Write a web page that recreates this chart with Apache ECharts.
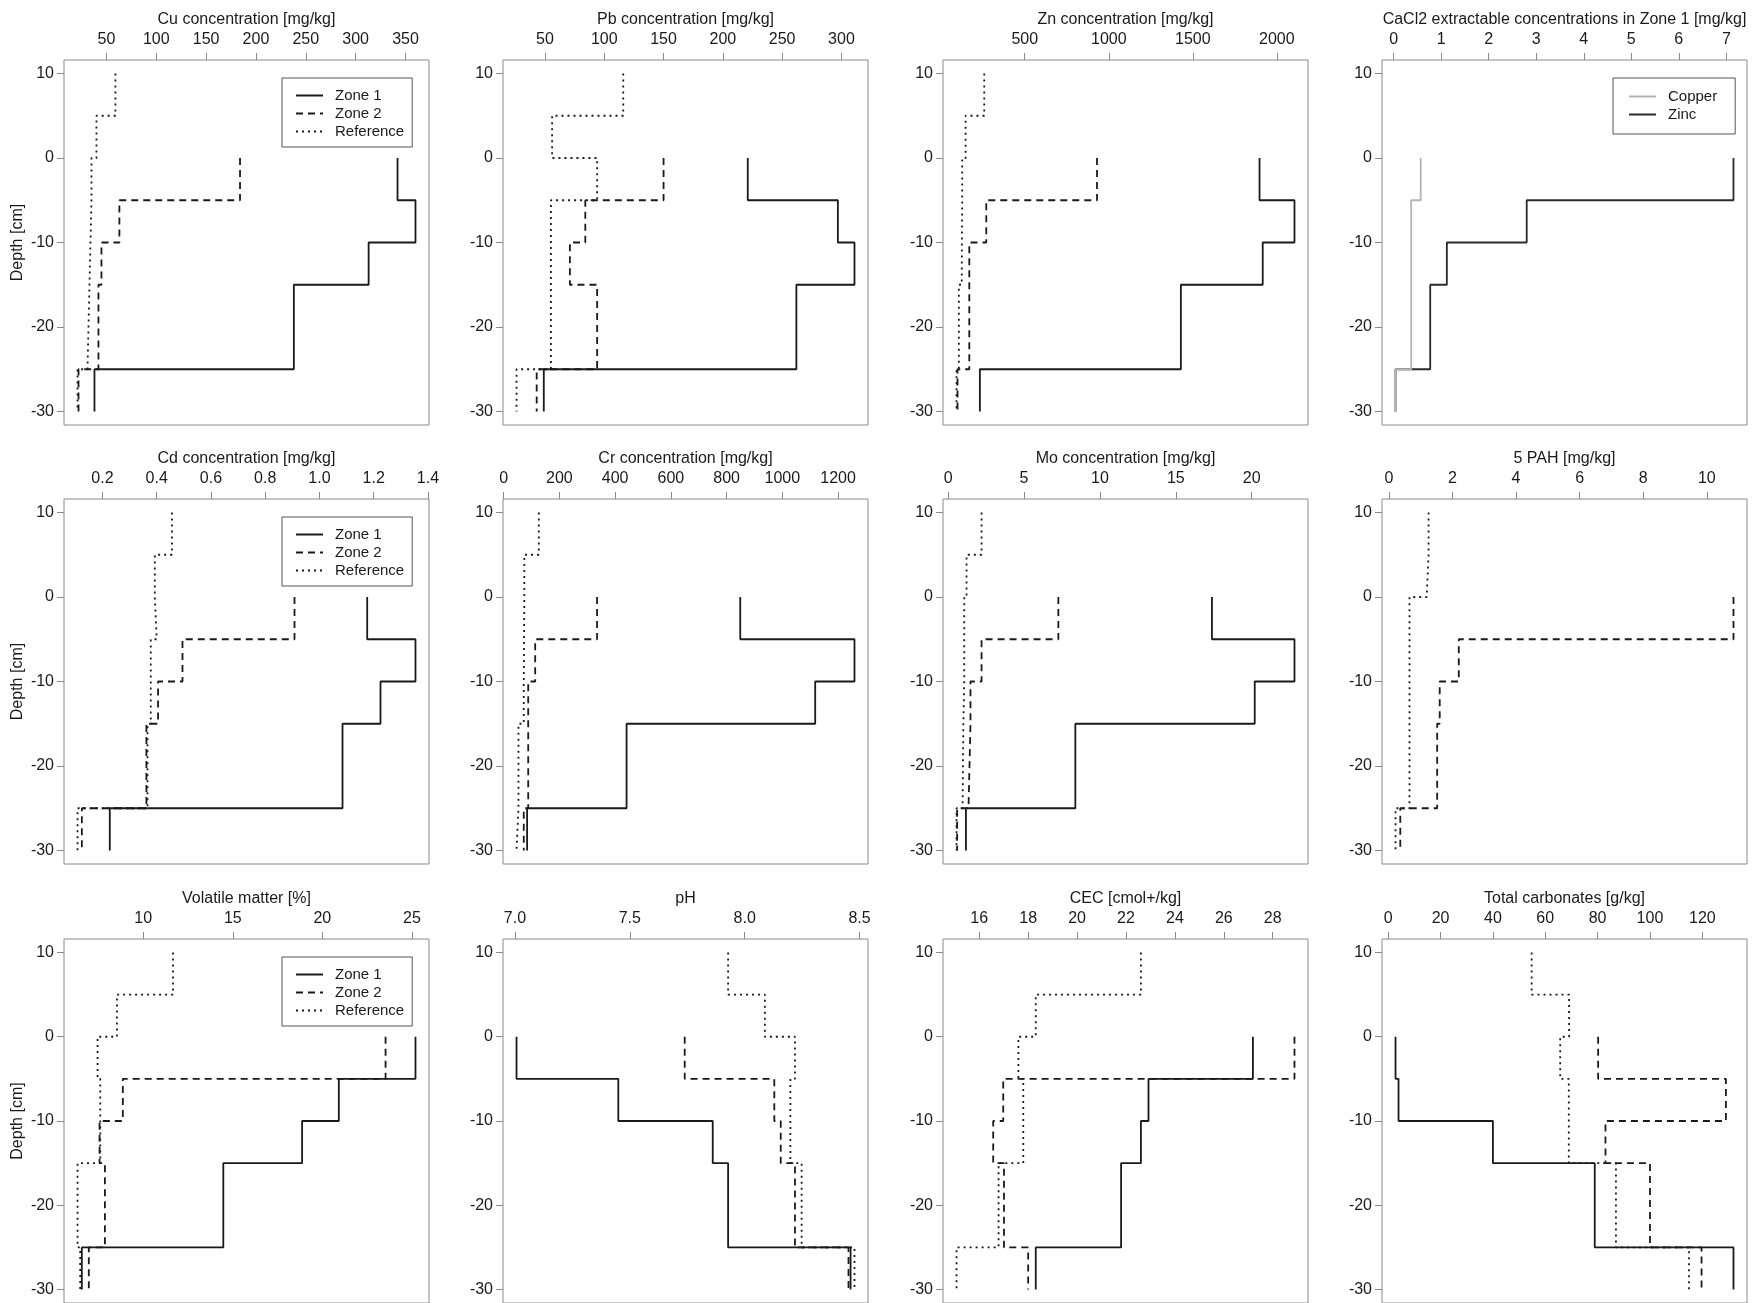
<!DOCTYPE html>
<html><head><meta charset="utf-8">
<script src="https://cdn.jsdelivr.net/npm/echarts@6/dist/echarts.min.js"></script>
<style>html,body{margin:0;padding:0;background:#fff}#c{width:1760px;height:1303px}</style>
</head><body><div id="c"></div>
<script>
// ---- depth layers (cm) ----
const zoneTop = [0, -5, -10, -15, -25];
const zoneBottom = [-5, -10, -15, -25, -30];
const refTop = [10, 5, 0, -5, -10, -15, -25];
const refBottom = [5, 0, -5, -10, -15, -25, -30];
const depthTicks = [-30, -20, -10, 0, 10];
const depthRange = [-30, 10];

// ---- panel titles ----
const titles = [
  'Cu concentration [mg/kg]', 'Pb concentration [mg/kg]', 'Zn concentration [mg/kg]', 'CaCl2 extractable concentrations in Zone 1 [mg/kg]',
  'Cd concentration [mg/kg]', 'Cr concentration [mg/kg]', 'Mo concentration [mg/kg]', '5 PAH [mg/kg]',
  'Volatile matter [%]', 'pH', 'CEC [cmol+/kg]', 'Total carbonates [g/kg]'
];

// ---- tick labels ----
const cuTicks = ['50','100','150','200','250','300','350'];
const pbTicks = ['50','100','150','200','250','300'];
const znTicks = ['500','1000','1500','2000'];
const cacl2Ticks = ['0','1','2','3','4','5','6','7'];
const cdTicks = ['0.2','0.4','0.6','0.8','1.0','1.2','1.4'];
const crTicks = ['0','200','400','600','800','1000','1200'];
const moTicks = ['0','5','10','15','20'];
const pahTicks = ['0','2','4','6','8','10'];
const vmTicks = ['10','15','20','25'];
const phTicks = ['7.0','7.5','8.0','8.5'];
const cecTicks = ['16','18','20','22','24','26','28'];
const carbTicks = ['0','20','40','60','80','100','120'];

// ---- values (zone layers: 0-5,5-10,10-15,15-25,25-30 cm; reference adds 10-5, 5-0 above) ----
const cuZone1 = [342, 360, 313, 238, 38];
const cuZone2 = [184, 63, 45, 42, 22];
const cuRef = [59, 40, 35, 34, 33, 31, 21];

const pbZone1 = [221, 297, 311, 262, 49];
const pbZone2 = [150, 84, 71, 94, 43];
const pbRef = [116, 56, 94, 55, 55, 55, 26];

const znZone1 = [1897, 2105, 1916, 1429, 233];
const znZone2 = [930, 271, 170, 170, 100];
const znRef = [259, 148, 128, 126, 125, 108, 94];

const cacl2Copper = [0.57, 0.37, 0.37, 0.37, 0.04];
const cacl2Zinc = [7.15, 2.80, 1.12, 0.77, 0.04];

const cdZone1 = [1.176, 1.354, 1.225, 1.085, 0.227];
const cdZone2 = [0.908, 0.495, 0.405, 0.362, 0.124];
const cdRef = [0.456, 0.393, 0.40, 0.378, 0.378, 0.366, 0.108];

const crZone1 = [849, 1259, 1118, 441, 84];
const crZone2 = [335, 113, 88, 88, 72];
const crRef = [126, 74, 73, 72, 72, 53, 46];

const moZone1 = [17.38, 22.82, 20.2, 8.38, 1.17];
const moZone2 = [7.26, 2.2, 1.47, 1.34, 0.59];
const moRef = [2.2, 1.21, 1.06, 1.06, 1.0, 0.95, 0.55];

const pahZone2 = [10.84, 2.2, 1.6, 1.52, 0.36];
const pahRef = [1.25, 1.19, 0.65, 0.65, 0.65, 0.65, 0.21];

const vmZone1 = [25.2, 20.92, 18.87, 14.47, 6.57];
const vmZone2 = [23.53, 8.86, 7.56, 7.86, 6.96];
const vmRef = [11.66, 8.53, 7.45, 7.6, 7.6, 6.33, 6.48];

const phZone1 = [7.007, 7.45, 7.861, 7.928, 8.461];
const phZone2 = [7.739, 8.129, 8.157, 8.219, 8.452];
const phRef = [7.928, 8.088, 8.219, 8.199, 8.199, 8.248, 8.478];

const cecZone1 = [27.19, 22.92, 22.61, 21.8, 18.31];
const cecZone2 = [28.89, 16.98, 16.57, 17.01, 18.0];
const cecRef = [22.61, 18.31, 17.6, 17.8, 17.8, 16.79, 15.07];

const carbZone1 = [2.8, 3.95, 40.0, 78.9, 131.9];
const carbZone2 = [80.2, 129, 83, 100, 119.7];
const carbRef = [54.8, 69.1, 65.7, 69, 69, 87, 114.9];

// ---- assemble ----
const Z = (name, vals) => ({ name, vals, top: zoneTop, bottom: zoneBottom });
const R = (vals) => ({ name: 'Reference', vals, top: refTop, bottom: refBottom });
const panels = [
  { ticks: cuTicks, lines: [Z('Zone 1', cuZone1), Z('Zone 2', cuZone2), R(cuRef)], legend: true },
  { ticks: pbTicks, lines: [Z('Zone 1', pbZone1), Z('Zone 2', pbZone2), R(pbRef)] },
  { ticks: znTicks, lines: [Z('Zone 1', znZone1), Z('Zone 2', znZone2), R(znRef)] },
  { ticks: cacl2Ticks, lines: [Z('Zinc', cacl2Zinc), Z('Copper', cacl2Copper)], legend2: true },
  { ticks: cdTicks, lines: [Z('Zone 1', cdZone1), Z('Zone 2', cdZone2), R(cdRef)], legend: true },
  { ticks: crTicks, lines: [Z('Zone 1', crZone1), Z('Zone 2', crZone2), R(crRef)] },
  { ticks: moTicks, lines: [Z('Zone 1', moZone1), Z('Zone 2', moZone2), R(moRef)] },
  { ticks: pahTicks, lines: [Z('Zone 2', pahZone2), R(pahRef)] },
  { ticks: vmTicks, lines: [Z('Zone 1', vmZone1), Z('Zone 2', vmZone2), R(vmRef)], legend: true },
  { ticks: phTicks, lines: [Z('Zone 1', phZone1), Z('Zone 2', phZone2), R(phRef)] },
  { ticks: cecTicks, lines: [Z('Zone 1', cecZone1), Z('Zone 2', cecZone2), R(cecRef)] },
  { ticks: carbTicks, lines: [Z('Zone 1', carbZone1), Z('Zone 2', carbZone2), R(carbRef)] }
];

const FONT = '"Liberation Sans", Arial, sans-serif';
const TXT = '#1a1a1a';
const FRAME = '#8a8a8a';
const LINE = '#1a1a1a';
const AFS = 16;
const styles = {
  'Zone 1': { type: 'solid', color: LINE },
  'Zone 2': { type: [7, 5], color: LINE },
  'Reference': { type: [2, 4], color: LINE },
  'Zinc': { type: 'solid', color: '#2a2a2a' },
  'Copper': { type: 'solid', color: '#b4b4b4' }
};
const colLeft = [64, 503, 943, 1382];
const rowTop = [60, 499, 939];
const BOX = 365;

function steps(l) {
  const pts = [];
  l.vals.forEach((v, i) => { pts.push([v, l.top[i]]); pts.push([v, l.bottom[i]]); });
  return pts;
}
const ext = (lo, hi) => [lo - 0.04 * (hi - lo), hi + 0.04 * (hi - lo)];
const yLim = ext(depthRange[0], depthRange[1]);

const grid = [], xAxis = [], yAxis = [], series = [], legend = [];
panels.forEach((p, i) => {
  const col = i % 4, row = Math.floor(i / 4);
  grid.push({ left: colLeft[col], top: rowTop[row], width: BOX, height: BOX, show: true,
    borderColor: FRAME, borderWidth: 1, backgroundColor: 'transparent' });
  const tv = p.ticks.map(Number);
  xAxis.push({
    gridIndex: i, type: 'value', position: 'top',
    min: v => ext(v.min, v.max)[0], max: v => ext(v.min, v.max)[1],
    name: titles[i], nameLocation: 'middle', nameGap: 32,
    nameTextStyle: { fontSize: AFS, color: TXT, fontFamily: FONT },
    axisLine: { show: false, onZero: false },
    axisTick: { show: true, length: 7, customValues: tv, lineStyle: { color: FRAME, width: 1 } },
    axisLabel: { customValues: tv, margin: 12, fontSize: AFS, color: TXT, fontFamily: FONT,
      formatter: v => { const k = tv.indexOf(v); return k >= 0 ? p.ticks[k] : String(v); } },
    splitLine: { show: false }
  });
  yAxis.push({
    gridIndex: i, type: 'value', position: 'left', min: yLim[0], max: yLim[1],
    name: col === 0 ? 'Depth [cm]' : '', nameLocation: 'middle', nameGap: 38,
    nameTextStyle: { fontSize: AFS, color: TXT, fontFamily: FONT },
    axisLine: { show: false, onZero: false },
    axisTick: { show: true, length: 7, customValues: depthTicks, lineStyle: { color: FRAME, width: 1 } },
    axisLabel: { customValues: depthTicks, margin: 10, fontSize: AFS, color: TXT, fontFamily: FONT },
    splitLine: { show: false }
  });
  p.lines.forEach(l => {
    const s = styles[l.name];
    series.push({
      type: 'line', name: l.name, xAxisIndex: i, yAxisIndex: i,
      data: steps(l), symbol: 'none', showSymbol: false, animation: false, silent: true,
      lineStyle: { width: 1.8, type: s.type, color: s.color, cap: 'butt' },
      itemStyle: { color: s.color }, clip: false
    });
  });
  if (p.legend || p.legend2) {
    legend.push({
      data: p.legend ? ['Zone 1', 'Zone 2', 'Reference'] : ['Copper', 'Zinc'],
      orient: 'vertical', align: 'left',
      left: colLeft[col] + (p.legend ? 218 : 231), top: rowTop[row] + 18,
      itemWidth: 27, itemHeight: 14, itemGap: 3,
      padding: p.legend ? [10, 8, 8, 13] : [11, 18, 12, 15],
      borderColor: '#555', borderWidth: 1, backgroundColor: '#fff',
      selectedMode: false,
      itemStyle: { color: 'rgba(0,0,0,0)', borderWidth: 0, opacity: 0 },
      textStyle: { fontSize: 15, color: TXT, fontFamily: FONT, lineHeight: 15, padding: [0, 0, 0, 7] }
    });
  }
});

const chart = echarts.init(document.getElementById('c'), null, { renderer: 'canvas' });
chart.setOption({ animation: false, backgroundColor: '#fff', grid, xAxis, yAxis, series, legend });
</script>
</body></html>
